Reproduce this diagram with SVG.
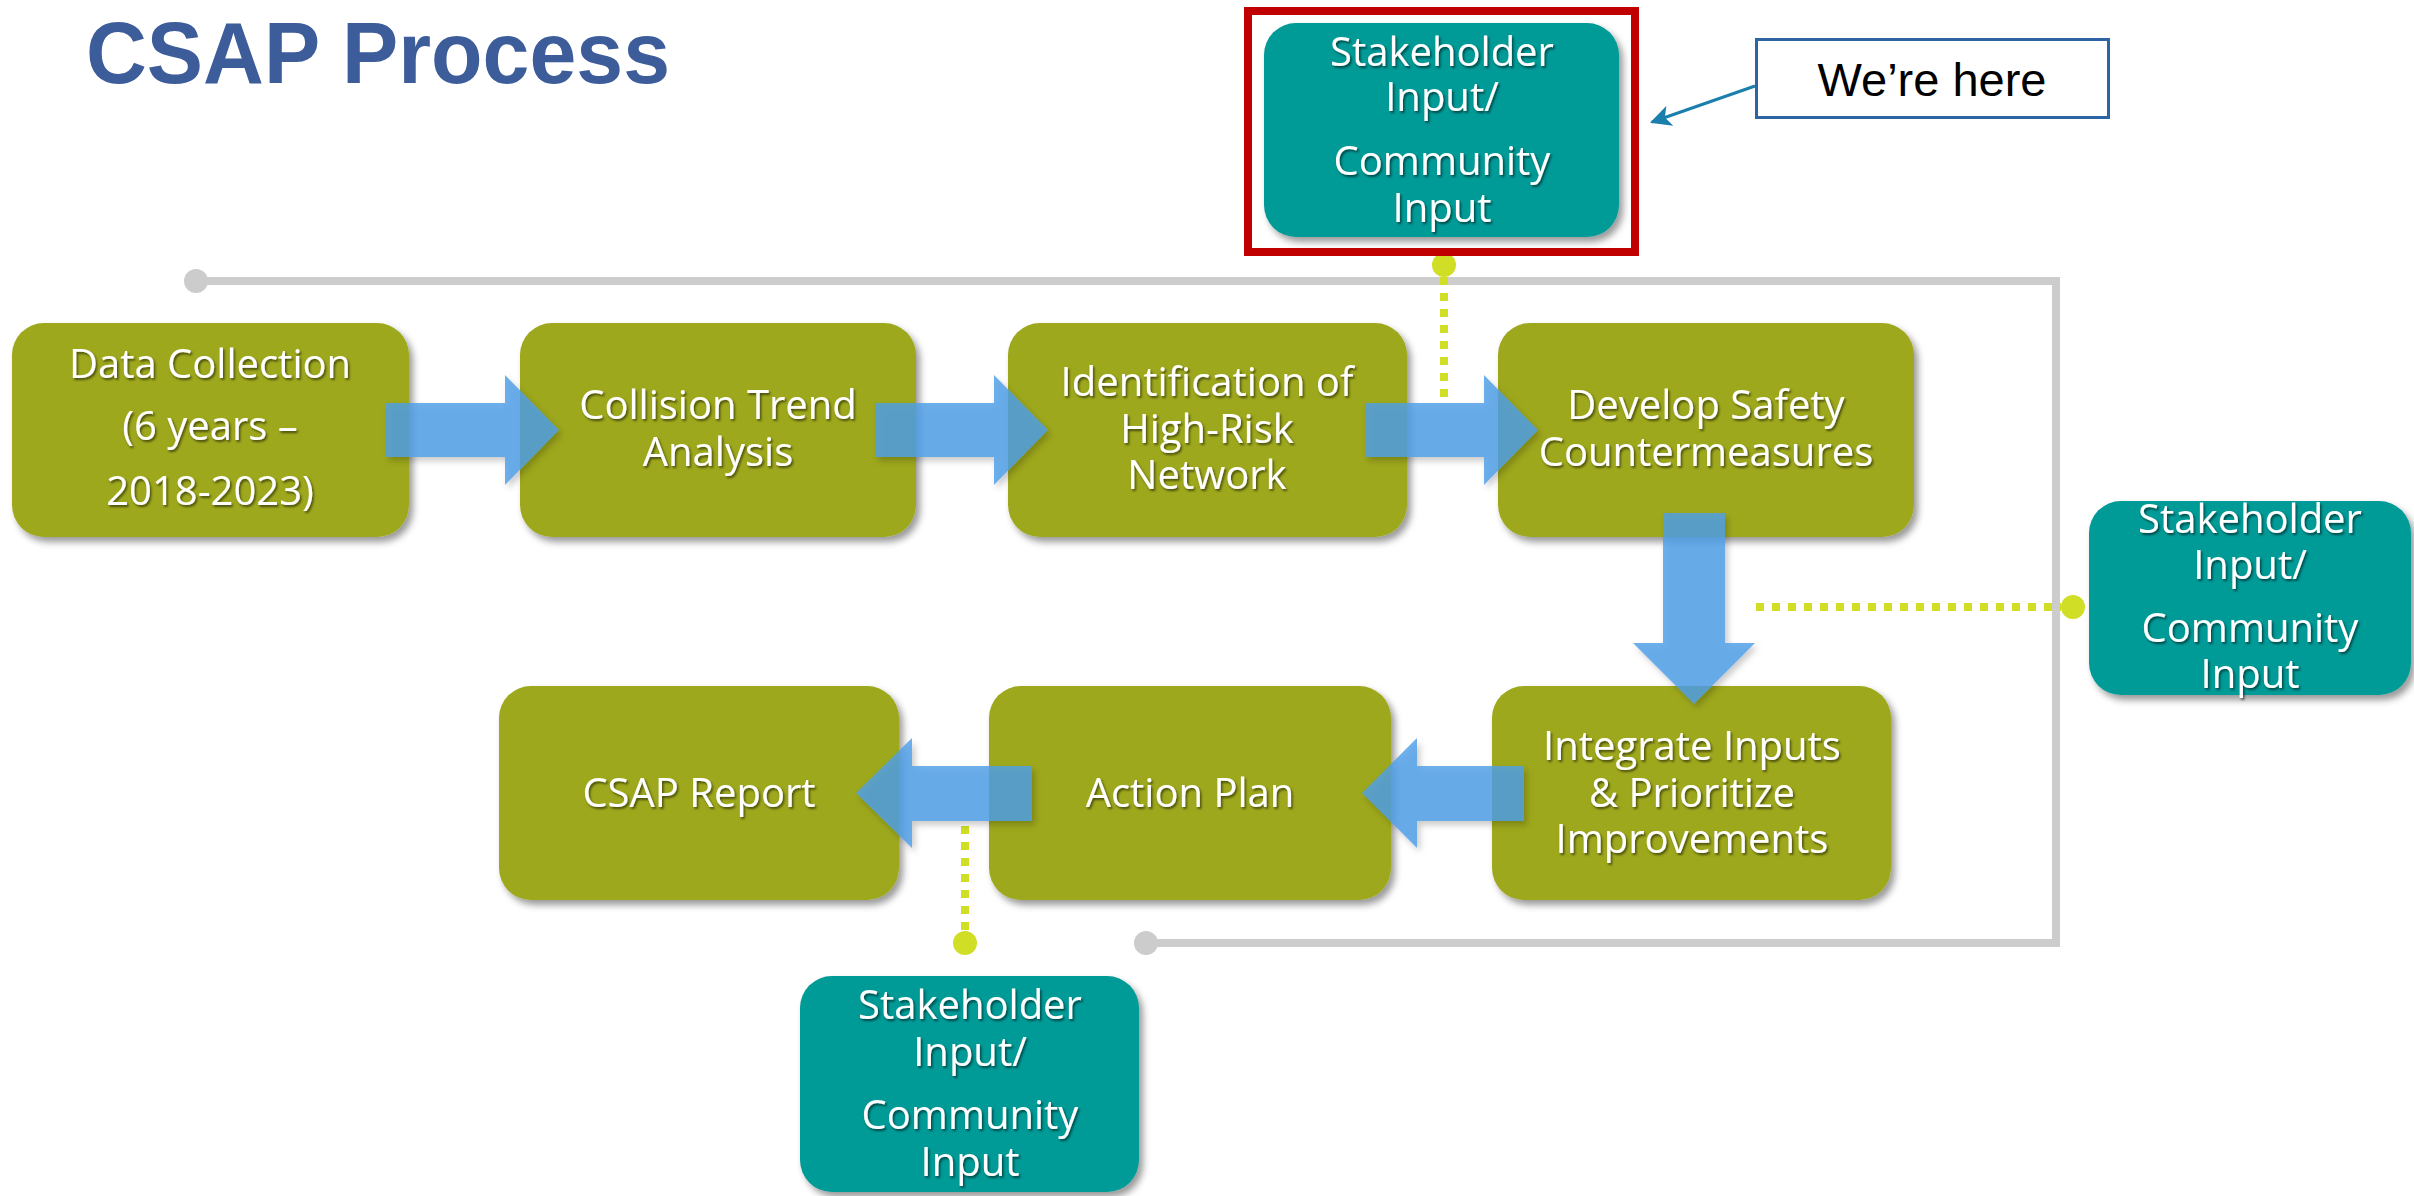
<svg xmlns="http://www.w3.org/2000/svg" width="2414" height="1196" viewBox="0 0 2414 1196">
<defs>
<style>
.g{fill:#9EA81D;filter:url(#sh)}
.t{fill:#009A97;filter:url(#sh)}
.lbl{font-family:"Open Sans","Noto Sans",sans-serif;font-size:40px;fill:#FFFFFF;text-anchor:middle;filter:url(#tsh)}
.arr{fill:#4F9FE8;fill-opacity:0.82;filter:url(#ash)}
.dot{fill:none;stroke:#D0DE26;stroke-width:8;stroke-dasharray:8 8}
</style>
<filter id="sh" x="-10%" y="-10%" width="125%" height="130%">
<feDropShadow dx="4" dy="5" stdDeviation="3.5" flood-color="#000" flood-opacity="0.4"/>
</filter>
<filter id="ash" x="-10%" y="-10%" width="130%" height="130%">
<feDropShadow dx="3" dy="4" stdDeviation="3" flood-color="#000" flood-opacity="0.25"/>
</filter>
<filter id="tsh" x="-5%" y="-10%" width="110%" height="120%">
<feDropShadow dx="1.5" dy="2" stdDeviation="1" flood-color="#000" flood-opacity="0.55"/>
</filter>
<marker id="ah" viewBox="0 0 10 10" refX="9" refY="5" markerWidth="7" markerHeight="7" orient="auto" markerUnits="strokeWidth">
<path d="M0,0 L10,5 L0,10 L2.5,5 Z" fill="#1B7FAE"/>
</marker>
</defs>
<rect width="2414" height="1196" fill="#FFFFFF"/>

<text x="86" y="83" font-family="'Liberation Sans',Arial,sans-serif" font-weight="700" font-size="88" fill="#3D5C9A" textLength="584" lengthAdjust="spacingAndGlyphs">CSAP Process</text>

<g id="connectors">
<path d="M196,281 H2056 V943 H1146" fill="none" stroke="#CCCCCC" stroke-width="8"/>
<circle cx="196" cy="281" r="12" fill="#CCCCCC"/>
<circle cx="1146" cy="943" r="12" fill="#CCCCCC"/>
<path class="dot" d="M1444,277 V397"/>
<circle cx="1444" cy="265" r="12" fill="#D0DE26"/>
<path class="dot" d="M1756,607 H2061"/>
<circle cx="2073" cy="607" r="12" fill="#D0DE26"/>
<path class="dot" d="M965,826 V931"/>
<circle cx="965" cy="943" r="12" fill="#D0DE26"/>
<line x1="1755" y1="86" x2="1652" y2="122" stroke="#1B7FAE" stroke-width="3" marker-end="url(#ah)"/>
</g>

<g id="n-data"><rect class="g" x="12" y="323" width="397" height="214" rx="32"/>
<text class="lbl"><tspan x="210" y="378">Data Collection</tspan><tspan x="210" y="440">(6 years –</tspan><tspan x="210" y="505">2018-2023)</tspan></text></g>

<g id="n-collision"><rect class="g" x="520" y="323" width="396" height="214" rx="32"/>
<text class="lbl"><tspan x="718" y="419">Collision Trend</tspan><tspan x="718" y="466">Analysis</tspan></text></g>

<g id="n-identification"><rect class="g" x="1008" y="323" width="399" height="214" rx="32"/>
<text class="lbl"><tspan x="1207" y="396">Identification of</tspan><tspan x="1207" y="443">High-Risk</tspan><tspan x="1207" y="489">Network</tspan></text></g>

<g id="n-develop"><rect class="g" x="1498" y="323" width="416" height="214" rx="32"/>
<text class="lbl"><tspan x="1706" y="419">Develop Safety</tspan><tspan x="1706" y="466">Countermeasures</tspan></text></g>

<g id="n-report"><rect class="g" x="499" y="686" width="400" height="214" rx="32"/>
<text class="lbl" x="699" y="807">CSAP Report</text></g>

<g id="n-action"><rect class="g" x="989" y="686" width="402" height="214" rx="32"/>
<text class="lbl" x="1190" y="807">Action Plan</text></g>

<g id="n-integrate"><rect class="g" x="1492" y="686" width="399" height="214" rx="32"/>
<text class="lbl"><tspan x="1692" y="760">Integrate Inputs</tspan><tspan x="1692" y="807">&amp; Prioritize</tspan><tspan x="1692" y="853">Improvements</tspan></text></g>

<g id="n-stake-top"><rect class="t" x="1264" y="23" width="355" height="214" rx="32"/>
<text class="lbl"><tspan x="1442" y="66">Stakeholder</tspan><tspan x="1442" y="111">Input/</tspan><tspan x="1442" y="175">Community</tspan><tspan x="1442" y="222">Input</tspan></text>
<rect x="1248" y="11" width="387" height="241" fill="none" stroke="#C00000" stroke-width="8"/></g>

<g id="n-stake-right"><rect class="t" x="2089" y="501" width="322" height="194" rx="32"/>
<text class="lbl"><tspan x="2250" y="533">Stakeholder</tspan><tspan x="2250" y="579">Input/</tspan><tspan x="2250" y="642">Community</tspan><tspan x="2250" y="688">Input</tspan></text></g>

<g id="n-stake-bottom"><rect class="t" x="800" y="976" width="339" height="216" rx="32"/>
<text class="lbl"><tspan x="970" y="1019">Stakeholder</tspan><tspan x="970" y="1066">Input/</tspan><tspan x="970" y="1129">Community</tspan><tspan x="970" y="1176">Input</tspan></text></g>

<g id="n-here"><rect x="1756.5" y="39.5" width="352" height="78" fill="#FFFFFF" stroke="#2E64A3" stroke-width="3"/>
<text x="1932" y="96" font-family="'Liberation Sans',Arial,sans-serif" font-size="47" fill="#000000" text-anchor="middle">We’re here</text></g>

<g id="flow-arrows">
<path class="arr" d="M386,403 H505 V375 L559,430 L505,485 V457 H386 Z"/>
<path class="arr" d="M875,403 H994 V375 L1048,430 L994,485 V457 H875 Z"/>
<path class="arr" d="M1365,403 H1484 V375 L1538,430 L1484,485 V457 H1365 Z"/>
<path class="arr" d="M1663,513 H1725 V643 H1755 L1694,704 L1633,643 H1663 Z"/>
<path class="arr" d="M1524,766 H1417 V738 L1362,793 L1417,848 V821 H1524 Z"/>
<path class="arr" d="M1032,766 H912 V738 L856,793 L912,848 V821 H1032 Z"/>
</g>
</svg>
